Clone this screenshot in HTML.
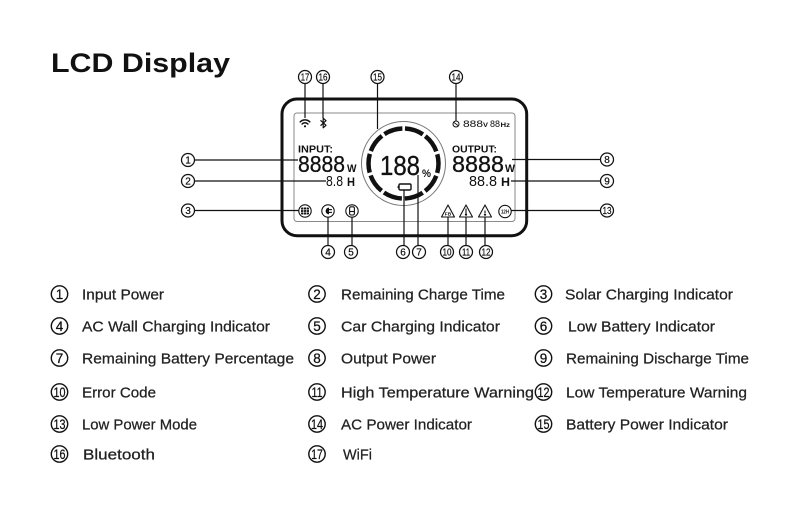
<!DOCTYPE html>
<html><head><meta charset="utf-8"><style>
html,body{margin:0;padding:0;background:#fff;}
svg{display:block;}
text{font-family:"Liberation Sans",sans-serif;}
</style></head><body>
<svg width="800" height="521" viewBox="0 0 800 521" xmlns="http://www.w3.org/2000/svg">
<rect width="800" height="521" fill="#fff"/>
<!-- Title -->
<text x="51" y="72" font-size="27" font-weight="bold" fill="#111" textLength="179" lengthAdjust="spacingAndGlyphs">LCD Display</text>

<!-- Device outline -->
<rect x="282" y="99" width="244.7" height="136.7" rx="15" fill="none" stroke="#111" stroke-width="3"/>
<rect x="294" y="113" width="221" height="108.5" rx="3" fill="none" stroke="#8a8a8a" stroke-width="1"/>

<!-- Ring -->
<circle cx="403.5" cy="163.5" r="42" fill="none" stroke="#777" stroke-width="1"/>
<circle cx="403.5" cy="163.5" r="35" fill="none" stroke="#111" stroke-width="4.5" stroke-dasharray="18.99 3" stroke-dashoffset="-1.5" transform="rotate(-90 403.5 163.5)"/>
<text x="380" y="175" font-size="28" fill="#111" stroke="#111" stroke-width="0.3" textLength="40" lengthAdjust="spacingAndGlyphs">188</text>
<text x="422" y="177" font-size="11" font-weight="bold" fill="#111" textLength="9" lengthAdjust="spacingAndGlyphs">%</text>
<!-- battery -->
<rect x="399" y="184" width="12" height="6" rx="1.2" fill="none" stroke="#111" stroke-width="1.4"/>
<rect x="397.6" y="185.8" width="1.6" height="2.4" fill="#111"/>

<!-- Top icons -->
<g fill="none" stroke="#111" stroke-width="1.5" stroke-linecap="round">
<path d="M300.2,121.9 A6.8,6.8 0 0 1 309.8,121.9"/>
<path d="M302.1,124 A4,4 0 0 1 307.9,124"/>
</g>
<circle cx="305" cy="126.3" r="1.1" fill="#111"/>
<path d="M320.5,120.3 L326,125.3 L323.2,127.8 L323.2,118.2 L326,120.7 L320.5,125.7" fill="none" stroke="#111" stroke-width="1.2" stroke-linejoin="round"/>
<circle cx="456" cy="124" r="3" fill="none" stroke="#111" stroke-width="1"/>
<line x1="454" y1="122.5" x2="458" y2="125.5" stroke="#111" stroke-width="0.9"/>
<text x="463" y="127" font-size="9" fill="#111" textLength="20" lengthAdjust="spacingAndGlyphs">888</text>
<text x="483" y="127" font-size="6.5" font-weight="bold" fill="#111" textLength="5" lengthAdjust="spacingAndGlyphs">V</text>
<text x="490" y="127" font-size="9" fill="#111" textLength="10" lengthAdjust="spacingAndGlyphs">88</text>
<text x="500.5" y="127" font-size="6.5" font-weight="bold" fill="#111" textLength="9.5" lengthAdjust="spacingAndGlyphs">Hz</text>

<!-- INPUT -->
<text x="298" y="152.5" font-size="10" font-weight="bold" fill="#111" textLength="35" lengthAdjust="spacingAndGlyphs">INPUT:</text>
<text x="298" y="172" font-size="23" fill="#111" stroke="#111" stroke-width="0.3" textLength="47" lengthAdjust="spacingAndGlyphs">8888</text>
<text x="347" y="172" font-size="11" font-weight="bold" fill="#111" textLength="9.5" lengthAdjust="spacingAndGlyphs">W</text>
<text x="326" y="186" font-size="15" fill="#111" textLength="17" lengthAdjust="spacingAndGlyphs">8.8</text>
<text x="347" y="186" font-size="12" font-weight="bold" fill="#111" textLength="8" lengthAdjust="spacingAndGlyphs">H</text>

<!-- OUTPUT -->
<text x="452" y="152.5" font-size="10" font-weight="bold" fill="#111" textLength="45" lengthAdjust="spacingAndGlyphs">OUTPUT:</text>
<text x="452" y="172" font-size="23" fill="#111" stroke="#111" stroke-width="0.3" textLength="52" lengthAdjust="spacingAndGlyphs">8888</text>
<text x="505" y="172" font-size="11" font-weight="bold" fill="#111" textLength="10" lengthAdjust="spacingAndGlyphs">W</text>
<text x="469" y="186" font-size="15" fill="#111" textLength="28" lengthAdjust="spacingAndGlyphs">88.8</text>
<text x="501" y="186" font-size="12" font-weight="bold" fill="#111" textLength="9" lengthAdjust="spacingAndGlyphs">H</text>

<!-- Bottom icons -->
<g fill="none" stroke="#111" stroke-width="1.1">
<circle cx="305" cy="211" r="6.2"/>
<circle cx="328" cy="211" r="6.2"/>
<circle cx="352" cy="211" r="6.2"/>
<circle cx="505" cy="211.5" r="6.2"/>
<path d="M448,205 L454.5,217 L441.5,217 Z" stroke-linejoin="round"/>
<path d="M466,205 L472.5,217 L459.5,217 Z" stroke-linejoin="round"/>
<path d="M485,205 L491.5,217 L478.5,217 Z" stroke-linejoin="round"/>
<rect x="349.6" y="206.8" width="4.8" height="8.2" rx="1.5"/>
<line x1="349.6" y1="211.5" x2="354.4" y2="211.5"/>
<line x1="466" y1="208.5" x2="466" y2="213.5"/>
<line x1="485" y1="210.5" x2="485" y2="213"/>
</g>
<rect x="301" y="207.5" width="8" height="7" rx="1" fill="#111"/>
<g stroke="#fff" stroke-width="0.6">
<line x1="301" y1="209.8" x2="309" y2="209.8"/>
<line x1="301" y1="212.2" x2="309" y2="212.2"/>
<line x1="303.7" y1="207.5" x2="303.7" y2="214.5"/>
<line x1="306.3" y1="207.5" x2="306.3" y2="214.5"/>
</g>
<path d="M329,207.6 A3.4,3.4 0 0 0 329,214.4 Z" fill="#111"/>
<g stroke="#111" stroke-width="1.1"><line x1="329" y1="209.6" x2="332" y2="209.6"/><line x1="329" y1="212.4" x2="332" y2="212.4"/></g>
<circle cx="466" cy="214.6" r="1.1" fill="#111"/>
<circle cx="485" cy="214.6" r="1.1" fill="#111"/>
<text x="448" y="215.6" font-size="4.8" font-weight="bold" fill="#111" text-anchor="middle">FB</text>
<text x="505" y="213.4" font-size="5" font-weight="bold" fill="#111" text-anchor="middle" textLength="8" lengthAdjust="spacingAndGlyphs">12H</text>

<!-- Leader lines -->
<g stroke="#111" stroke-width="1.2">
<line x1="194.3" y1="160" x2="298" y2="160"/>
<line x1="194.3" y1="181" x2="326" y2="181"/>
<line x1="194.3" y1="210.5" x2="298.5" y2="210.5"/>
<line x1="328" y1="217.5" x2="328" y2="245.7"/>
<line x1="352" y1="217.5" x2="352" y2="245.7"/>
<line x1="404" y1="190" x2="404" y2="245.7"/>
<line x1="418" y1="175" x2="418" y2="245.7"/>
<line x1="448" y1="217.5" x2="448" y2="245.7"/>
<line x1="466" y1="217.5" x2="466" y2="245.7"/>
<line x1="485" y1="217.5" x2="485" y2="245.7"/>
<line x1="512" y1="159.5" x2="600.7" y2="159.5"/>
<line x1="511" y1="181" x2="600.7" y2="181"/>
<line x1="511.5" y1="210.5" x2="600.7" y2="210.5"/>
<line x1="456" y1="83.3" x2="456" y2="120.5"/>
<line x1="377.5" y1="83.3" x2="377.5" y2="129"/>
<line x1="323" y1="83.3" x2="323" y2="118"/>
<line x1="305" y1="83.3" x2="305" y2="118"/>
</g>

<!-- Diagram number circles -->
<g fill="#fff" stroke="#111" stroke-width="1.25">
<circle cx="188" cy="160" r="6.5"/>
<circle cx="188" cy="181" r="6.5"/>
<circle cx="188" cy="210.5" r="6.5"/>
<circle cx="328" cy="252" r="6.5"/>
<circle cx="351" cy="252" r="6.5"/>
<circle cx="403" cy="252" r="6.5"/>
<circle cx="419" cy="252" r="6.5"/>
<circle cx="447" cy="252" r="6.5"/>
<circle cx="466" cy="252" r="6.5"/>
<circle cx="486" cy="252" r="6.5"/>
<circle cx="607" cy="159.5" r="6.5"/>
<circle cx="607" cy="181" r="6.5"/>
<circle cx="607" cy="210.5" r="6.5"/>
<circle cx="456" cy="77" r="6.5"/>
<circle cx="377.5" cy="77" r="6.5"/>
<circle cx="323" cy="77" r="6.5"/>
<circle cx="305" cy="77" r="6.5"/>
</g>
<g font-size="10" fill="#111" stroke="#111" stroke-width="0.2" text-anchor="middle">
<text x="188" y="163.6">1</text>
<text x="188" y="184.6">2</text>
<text x="188" y="214.1">3</text>
<text x="328" y="255.6">4</text>
<text x="351" y="255.6">5</text>
<text x="403" y="255.6">6</text>
<text x="419" y="255.6">7</text>
<text x="447" y="255.6" textLength="9" lengthAdjust="spacingAndGlyphs">10</text>
<text x="466" y="255.6" textLength="8" lengthAdjust="spacingAndGlyphs">11</text>
<text x="486" y="255.6" textLength="9" lengthAdjust="spacingAndGlyphs">12</text>
<text x="607" y="163.1">8</text>
<text x="607" y="184.6">9</text>
<text x="607" y="214.1" textLength="9" lengthAdjust="spacingAndGlyphs">13</text>
<text x="456" y="80.6" textLength="9" lengthAdjust="spacingAndGlyphs">14</text>
<text x="377.5" y="80.6" textLength="9" lengthAdjust="spacingAndGlyphs">15</text>
<text x="323" y="80.6" textLength="9" lengthAdjust="spacingAndGlyphs">16</text>
<text x="305" y="80.6" textLength="8.5" lengthAdjust="spacingAndGlyphs">17</text>
</g>

<!-- Legend circles -->
<g fill="none" stroke="#111" stroke-width="1.4">
<circle cx="59.5" cy="294" r="8.2"/><circle cx="317" cy="294" r="8.2"/><circle cx="543.5" cy="294" r="8.2"/>
<circle cx="59.5" cy="326" r="8.2"/><circle cx="317" cy="326" r="8.2"/><circle cx="543.5" cy="326" r="8.2"/>
<circle cx="59.5" cy="358" r="8.2"/><circle cx="317" cy="358" r="8.2"/><circle cx="543.5" cy="358" r="8.2"/>
<circle cx="59.5" cy="392" r="8.2"/><circle cx="317" cy="392" r="8.2"/><circle cx="543.5" cy="392" r="8.2"/>
<circle cx="59.5" cy="424" r="8.2"/><circle cx="317" cy="424" r="8.2"/><circle cx="543.5" cy="424" r="8.2"/>
<circle cx="59.5" cy="454" r="8.2"/><circle cx="317" cy="454" r="8.2"/>
</g>
<g font-size="13.5" fill="#111" stroke="#111" stroke-width="0.25" text-anchor="middle">
<text x="59.5" y="298.8">1</text><text x="317" y="298.8">2</text><text x="543.5" y="298.8">3</text>
<text x="59.5" y="330.8">4</text><text x="317" y="330.8">5</text><text x="543.5" y="330.8">6</text>
<text x="59.5" y="362.8">7</text><text x="317" y="362.8">8</text><text x="543.5" y="362.8">9</text>
<text x="59.5" y="396.8" textLength="12" lengthAdjust="spacingAndGlyphs">10</text><text x="317" y="396.8" textLength="11" lengthAdjust="spacingAndGlyphs">11</text><text x="543.5" y="396.8" textLength="12" lengthAdjust="spacingAndGlyphs">12</text>
<text x="59.5" y="428.8" textLength="12" lengthAdjust="spacingAndGlyphs">13</text><text x="317" y="428.8" textLength="12" lengthAdjust="spacingAndGlyphs">14</text><text x="543.5" y="428.8" textLength="12" lengthAdjust="spacingAndGlyphs">15</text>
<text x="59.5" y="458.8" textLength="12" lengthAdjust="spacingAndGlyphs">16</text><text x="317" y="458.8" textLength="11.5" lengthAdjust="spacingAndGlyphs">17</text>
</g>

<!-- Legend text -->
<g font-size="15" fill="#222" stroke="#222" stroke-width="0.25">
<text x="82" y="299.5" textLength="82" lengthAdjust="spacingAndGlyphs">Input Power</text>
<text x="82" y="331.5" textLength="188" lengthAdjust="spacingAndGlyphs">AC Wall Charging Indicator</text>
<text x="82" y="363.5" textLength="212" lengthAdjust="spacingAndGlyphs">Remaining Battery Percentage</text>
<text x="82" y="397.5" textLength="74" lengthAdjust="spacingAndGlyphs">Error Code</text>
<text x="82" y="429.5" textLength="115" lengthAdjust="spacingAndGlyphs">Low Power Mode</text>
<text x="83" y="459.5" textLength="72" lengthAdjust="spacingAndGlyphs">Bluetooth</text>

<text x="341" y="299.5" textLength="164" lengthAdjust="spacingAndGlyphs">Remaining Charge Time</text>
<text x="341" y="331.5" textLength="159" lengthAdjust="spacingAndGlyphs">Car Charging Indicator</text>
<text x="341" y="363.5" textLength="95" lengthAdjust="spacingAndGlyphs">Output Power</text>
<text x="341" y="397.5" textLength="193" lengthAdjust="spacingAndGlyphs">High Temperature Warning</text>
<text x="341" y="429.5" textLength="131" lengthAdjust="spacingAndGlyphs">AC Power Indicator</text>
<text x="343" y="459.5" textLength="29" lengthAdjust="spacingAndGlyphs">WiFi</text>

<text x="565" y="299.5" textLength="168" lengthAdjust="spacingAndGlyphs">Solar Charging Indicator</text>
<text x="568" y="331.5" textLength="147" lengthAdjust="spacingAndGlyphs">Low Battery Indicator</text>
<text x="566" y="363.5" textLength="183" lengthAdjust="spacingAndGlyphs">Remaining Discharge Time</text>
<text x="566" y="397.5" textLength="181" lengthAdjust="spacingAndGlyphs">Low Temperature Warning</text>
<text x="566" y="429.5" textLength="162" lengthAdjust="spacingAndGlyphs">Battery Power Indicator</text>
</g>
</svg>
</body></html>
